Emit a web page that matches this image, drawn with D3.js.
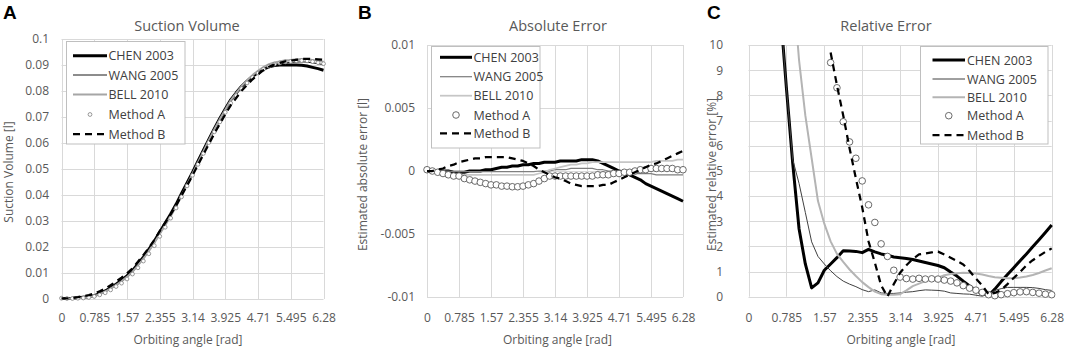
<!DOCTYPE html>
<html>
<head>
<meta charset="utf-8">
<script src="https://cdn.jsdelivr.net/npm/d3@7"></script>
<style>
  body { margin: 0; background: #fff; }
  svg { font-family: "Open Sans", "Noto Sans", sans-serif; }
</style>
</head>
<body>
<div id="chart"></div>
<script>
// orbiting angle samples [rad]
var theta = [0, 0.131, 0.262, 0.392, 0.523, 0.654, 0.785, 0.916, 1.047, 1.177, 1.308, 1.439, 1.570, 1.701, 1.832, 1.962, 2.093, 2.224, 2.355, 2.486, 2.617, 2.747, 2.878, 3.009, 3.140, 3.271, 3.402, 3.532, 3.663, 3.794, 3.925, 4.056, 4.187, 4.317, 4.448, 4.579, 4.710, 4.841, 4.972, 5.102, 5.233, 5.364, 5.495, 5.626, 5.757, 5.887, 6.018, 6.149, 6.280];

var xTicks = [0, 0.785, 1.57, 2.355, 3.14, 3.925, 4.71, 5.495, 6.28];
var xTickLabels = ["0", "0.785", "1.57", "2.355", "3.14", "3.925", "4.71", "5.495", "6.28"];

var seriesNames = ["CHEN 2003", "WANG 2005", "BELL 2010", "Method A", "Method B"];

// A - suction volume [l]
var volChen = [0.0002,0.0002,0.0003,0.0005,0.0007,0.0009,0.0013,0.0021,0.0031,0.0043,0.0057,0.0072,0.0089,0.0109,0.0135,0.0161,0.0191,0.0222,0.0258,0.0292,0.0327,0.0364,0.0406,0.0446,0.0487,0.0530,0.0572,0.0614,0.0655,0.0694,0.0731,0.0766,0.0793,0.0818,0.0838,0.0856,0.0871,0.0884,0.0893,0.0898,0.0900,0.0901,0.0900,0.0900,0.0899,0.0896,0.0891,0.0886,0.0880];
var volWang = [0.0002,0.0002,0.0003,0.0005,0.0007,0.0009,0.0013,0.0021,0.0030,0.0042,0.0056,0.0070,0.0087,0.0106,0.0131,0.0157,0.0186,0.0217,0.0252,0.0286,0.0320,0.0358,0.0399,0.0439,0.0481,0.0523,0.0565,0.0608,0.0649,0.0687,0.0724,0.0759,0.0786,0.0813,0.0834,0.0854,0.0871,0.0884,0.0895,0.0901,0.0905,0.0909,0.0910,0.0911,0.0912,0.0911,0.0908,0.0905,0.0901];
var volBell = [0.0002,0.0001,0.0002,0.0003,0.0005,0.0007,0.0011,0.0019,0.0028,0.0040,0.0054,0.0068,0.0085,0.0104,0.0129,0.0155,0.0184,0.0215,0.0250,0.0284,0.0318,0.0356,0.0398,0.0440,0.0482,0.0525,0.0568,0.0611,0.0652,0.0691,0.0728,0.0764,0.0792,0.0819,0.0841,0.0861,0.0878,0.0892,0.0903,0.0910,0.0914,0.0918,0.0919,0.0922,0.0923,0.0922,0.0919,0.0917,0.0913];
var volMethodA = [0.0003,0.0002,0.0002,0.0003,0.0004,0.0006,0.0010,0.0016,0.0024,0.0035,0.0048,0.0061,0.0077,0.0096,0.0120,0.0146,0.0174,0.0205,0.0241,0.0276,0.0311,0.0350,0.0393,0.0435,0.0476,0.0518,0.0560,0.0602,0.0643,0.0681,0.0718,0.0753,0.0782,0.0809,0.0831,0.0852,0.0869,0.0884,0.0895,0.0903,0.0908,0.0912,0.0914,0.0916,0.0917,0.0916,0.0913,0.0909,0.0905];
var volMethodB = [0.0002,0.0002,0.0004,0.0007,0.0011,0.0015,0.0021,0.0030,0.0040,0.0053,0.0067,0.0082,0.0099,0.0118,0.0143,0.0169,0.0197,0.0227,0.0261,0.0293,0.0325,0.0359,0.0398,0.0436,0.0475,0.0516,0.0556,0.0596,0.0636,0.0673,0.0710,0.0745,0.0773,0.0801,0.0823,0.0845,0.0864,0.0880,0.0893,0.0902,0.0908,0.0914,0.0917,0.0920,0.0923,0.0924,0.0923,0.0922,0.0920];

// B - absolute error [l]
var absChen = [0,0,0,0,0,-0.0001,-0.0001,-0.0001,0,0,0,0.0001,0.0001,0.0002,0.0003,0.0003,0.0004,0.0004,0.0005,0.0005,0.0006,0.0006,0.0007,0.0007,0.0007,0.0008,0.0008,0.0008,0.0008,0.0009,0.0009,0.0009,0.0008,0.0006,0.0004,0.0002,0,-0.0001,-0.0003,-0.0005,-0.0007,-0.0010,-0.0012,-0.0014,-0.0016,-0.0018,-0.0020,-0.0022,-0.0024];
var absWang = [0,0,0,0,0,-0.00005,-0.00005,-0.00005,-0.00005,-0.00005,-0.00005,-0.00005,-0.00005,-0.00005,-0.00005,-0.00005,-0.00005,-0.00005,-0.00005,-0.00005,-0.00005,0,0,0,0.0001,0.0001,0.0001,0.0002,0.0002,0.0002,0.0002,0.0002,0.0001,0.0001,0,0,0,-0.0001,-0.0001,-0.0002,-0.0002,-0.0002,-0.0002,-0.0003,-0.0003,-0.0003,-0.0003,-0.0003,-0.0003];
var absBell = [0,-0.0001,-0.0001,-0.0002,-0.0002,-0.0003,-0.0003,-0.0003,-0.0003,-0.0003,-0.0003,-0.0003,-0.0003,-0.0003,-0.0003,-0.0003,-0.0003,-0.0003,-0.0003,-0.0003,-0.0003,-0.0002,-0.0001,0.0001,0.0002,0.0003,0.0004,0.0005,0.0005,0.0006,0.0006,0.0007,0.0007,0.0007,0.0007,0.0007,0.0007,0.0007,0.0007,0.0007,0.0007,0.0007,0.0007,0.0008,0.0008,0.0008,0.0008,0.0009,0.0009];
var absMethodA = [0.0001,0,-0.0001,-0.0002,-0.0003,-0.0004,-0.0004,-0.0006,-0.0007,-0.0008,-0.0009,-0.0010,-0.0011,-0.0011,-0.0012,-0.0012,-0.00125,-0.00125,-0.0012,-0.0011,-0.0010,-0.0008,-0.0006,-0.0004,-0.0004,-0.0004,-0.0004,-0.0004,-0.0004,-0.0004,-0.0004,-0.0004,-0.0003,-0.0003,-0.0003,-0.0002,-0.0002,-0.0001,-0.0001,0,0.0001,0.0001,0.0002,0.0002,0.0002,0.0002,0.0002,0.0001,0.0001];
var absMethodB = [0,0,0.0001,0.0002,0.0004,0.0005,0.0007,0.0008,0.0009,0.0010,0.0010,0.0011,0.0011,0.0011,0.0011,0.0011,0.0010,0.0009,0.0008,0.0006,0.0004,0.0001,-0.0001,-0.0003,-0.0005,-0.0006,-0.0008,-0.0010,-0.0011,-0.0012,-0.0012,-0.0012,-0.0012,-0.0011,-0.0011,-0.0009,-0.0007,-0.0005,-0.0003,-0.0001,0.0001,0.0003,0.0005,0.0006,0.0008,0.0010,0.0012,0.0014,0.0016];

// C - relative error [%]
var relChen = [null,null,null,null,16,11.5,8.3,5.3,2.7,1.3,0.35,0.55,1.05,1.3,1.55,1.83,1.82,1.8,1.75,1.88,1.78,1.7,1.65,1.58,1.55,1.52,1.48,1.42,1.36,1.3,1.24,1.15,0.98,0.82,0.62,0.43,0.25,0.12,0.05,0.3,0.6,0.88,1.15,1.43,1.7,1.98,2.26,2.55,2.85];
var relWang = [null,null,null,null,16,11.5,8.3,5.45,4.5,3.35,2.18,1.6,1.3,1.03,0.8,0.62,0.5,0.4,0.28,0.2,0.27,0.15,0.13,0.13,0.15,0.18,0.2,0.24,0.27,0.26,0.25,0.22,0.15,0.13,0.11,0.1,0.06,0.02,0.1,0.25,0.32,0.37,0.37,0.37,0.37,0.36,0.33,0.28,0.25];
var relBell = [null,null,null,null,null,null,18,12.5,9.4,7.2,5.5,3.8,2.9,2.2,1.7,1.38,1.08,0.82,0.58,0.38,0.2,0.1,0.08,0.08,0.1,0.25,0.42,0.52,0.62,0.7,0.76,0.85,0.9,0.93,0.95,0.94,0.92,0.88,0.82,0.77,0.75,0.73,0.73,0.76,0.8,0.86,0.94,1.04,1.13];
var relMethodA = [null,null,null,null,null,null,null,null,null,null,null,14,11.6,9.3,8.3,6.95,6.15,5.5,4.6,3.65,2.95,2.1,1.6,1.05,0.78,0.72,0.7,0.73,0.7,0.71,0.7,0.66,0.62,0.55,0.44,0.34,0.26,0.17,0.08,0.04,0.08,0.12,0.16,0.19,0.2,0.17,0.14,0.1,0.08];
var relMethodB = [null,null,null,null,null,null,null,null,null,null,null,null,null,9.7,8.4,7.2,5.9,4.7,3.55,2.2,1.35,0.45,0,0.5,0.95,1.25,1.5,1.68,1.72,1.76,1.79,1.68,1.55,1.42,1.28,1.02,0.72,0.45,0.1,0.15,0.27,0.5,0.75,0.98,1.25,1.45,1.62,1.78,1.92];

var volTicks = [0, 0.01, 0.02, 0.03, 0.04, 0.05, 0.06, 0.07, 0.08, 0.09, 0.1];
var volTickLabels = ["0", "0.01", "0.02", "0.03", "0.04", "0.05", "0.06", "0.07", "0.08", "0.09", "0.1"];
var absTicks = [-0.01, -0.005, 0, 0.005, 0.01];
var absTickLabels = ["-0.01", "-0.005", "0", "0.005", "0.01"];
var relTicks = [0, 1, 2, 3, 4, 5, 6, 7, 8, 9, 10];
var relTickLabels = ["0", "1", "2", "3", "4", "5", "6", "7", "8", "9", "10"];

var width = 1065, height = 348;
var textColor = "#595959";

var svg = d3.select("#chart").append("svg")
    .attr("width", width)
    .attr("height", height);

var panels = [
  {
    letter: "A", letterX: 3, title: "Suction Volume", titleX: 187, xTitleX: 188,
    yTitle: "Suction Volume [l]", yTitleX: 12.5, yTitleY: 172,
    left: 61.5, right: 323.5, top: 39, bottom: 299, yLabelGap: 12.5,
    yDomain: [0, 0.1], yTicks: volTicks, yLabels: volTickLabels,
    data: [volChen, volWang, volBell, volMethodA, volMethodB],
    styles: [
      {color: "#000", w: 3},
      {color: "#1a1a1a", w: 1},
      {color: "#a6a6a6", w: 2},
      {marker: true, r: 1.9, color: "#7f7f7f", w: 0.8},
      {color: "#000", w: 2.25, dash: "7,5"}
    ],
    legend: {x: 66.5, y: 41.5, w: 118.5, h: 102.5, rows: [55.7, 75, 94.5, 114.5, 134], sx1: 73, sx2: 107, tx: 108.5}
  },
  {
    letter: "B", letterX: 358, title: "Absolute Error", titleX: 558, xTitleX: 557.5,
    yTitle: "Estimated absolute error [l]", yTitleX: 367, yTitleY: 174.5,
    left: 427, right: 683, top: 45, bottom: 297, yLabelGap: 12,
    yDomain: [-0.01, 0.01], yTicks: absTicks, yLabels: absTickLabels,
    data: [absChen, absWang, absBell, absMethodA, absMethodB],
    styles: [
      {color: "#000", w: 3},
      {color: "#7f7f7f", w: 1.25},
      {color: "#c6c6c6", w: 1.75},
      {marker: true, r: 3.3, color: "#595959", w: 0.9},
      {color: "#000", w: 2.25, dash: "7,5"}
    ],
    legend: {x: 431.5, y: 46.5, w: 108.5, h: 101.5, rows: [57.3, 76.7, 95.7, 115, 133.3], sx1: 440, sx2: 472, tx: 473.5}
  },
  {
    letter: "C", letterX: 707, title: "Relative Error", titleX: 886, xTitleX: 901,
    yTitle: "Estimated relative error [%]", yTitleX: 716, yTitleY: 174.5,
    left: 748.5, right: 1051.7, top: 45, bottom: 296.7, yLabelGap: 25.5,
    yDomain: [0, 10], yTicks: relTicks, yLabels: relTickLabels,
    data: [relChen, relWang, relBell, relMethodA, relMethodB],
    styles: [
      {color: "#000", w: 3},
      {color: "#404040", w: 1},
      {color: "#b4b4b4", w: 2},
      {marker: true, r: 3.3, color: "#595959", w: 0.9},
      {color: "#000", w: 2.25, dash: "7,5"}
    ],
    legend: {x: 920.5, y: 46.5, w: 127.5, h: 97.5, rows: [60, 79, 97.3, 115.7, 135], sx1: 932.5, sx2: 965, tx: 967}
  }
];

panels.forEach(function(p, pi) {
  var x = d3.scaleLinear().domain([0, 6.28]).range([p.left, p.right]);
  var y = d3.scaleLinear().domain(p.yDomain).range([p.bottom, p.top]);
  var g = svg.append("g");

  // grid
  g.append("g").selectAll("line").data(p.yTicks).enter().append("line")
    .attr("x1", p.left).attr("x2", p.right)
    .attr("y1", function(d){ return Math.round(y(d)) + 0.5; })
    .attr("y2", function(d){ return Math.round(y(d)) + 0.5; })
    .attr("stroke", "#d9d9d9").attr("stroke-width", 1);
  g.append("g").selectAll("line").data(xTicks).enter().append("line")
    .attr("y1", p.top).attr("y2", p.bottom)
    .attr("x1", function(d){ return Math.round(x(d)) + 0.5; })
    .attr("x2", function(d){ return Math.round(x(d)) + 0.5; })
    .attr("stroke", "#d9d9d9").attr("stroke-width", 1);

  // axes
  var xAxis = d3.axisBottom(x).tickValues(xTicks)
    .tickFormat(function(d, i){ return xTickLabels[i]; })
    .tickSize(0);
  var xg = g.append("g").attr("transform", "translate(0," + p.bottom + ")").call(xAxis);
  xg.select(".domain").remove();
  xg.selectAll("text").attr("y", 322 - p.bottom).attr("dy", 0)
    .attr("fill", textColor).style("font-size", "12px").style("font-family", "Open Sans");

  var yAxis = d3.axisLeft(y).tickValues(p.yTicks)
    .tickFormat(function(d, i){ return p.yLabels[i]; })
    .tickSize(0).tickPadding(p.yLabelGap);
  var yg = g.append("g").attr("transform", "translate(" + p.left + ",0)").call(yAxis);
  yg.select(".domain").remove();
  yg.selectAll("text").attr("fill", textColor).style("font-size", "12px").style("font-family", "Open Sans");

  // titles
  g.append("text").attr("x", p.titleX).attr("y", 30.5).attr("text-anchor", "middle")
    .attr("fill", textColor).style("font-size", "14.5px").text(p.title);
  g.append("text").attr("x", p.xTitleX).attr("y", 344).attr("text-anchor", "middle")
    .attr("fill", textColor).style("font-size", "12px").text("Orbiting angle [rad]");
  g.append("text").attr("transform", "translate(" + p.yTitleX + "," + p.yTitleY + ") rotate(-90)")
    .attr("text-anchor", "middle").attr("fill", textColor).style("font-size", "12px").text(p.yTitle);
  g.append("text").attr("x", p.letterX).attr("y", 18.5)
    .style("font-family", "Liberation Sans, Arial, sans-serif").style("font-weight", "bold")
    .style("font-size", "19px").attr("fill", "#000").text(p.letter);

  // plot clip
  var clipId = "clip" + pi;
  svg.append("clipPath").attr("id", clipId).append("rect")
    .attr("x", p.left - 4).attr("y", p.top).attr("width", p.right - p.left + 8).attr("height", p.bottom - p.top + 4);
  var plot = g.append("g").attr("clip-path", "url(#" + clipId + ")");

  var line = d3.line()
    .defined(function(d){ return d[1] != null; })
    .x(function(d){ return x(d[0]); })
    .y(function(d){ return y(d[1]); });

  p.data.forEach(function(vals, si) {
    var st = p.styles[si];
    var pts = theta.map(function(t, i){ return [t, vals[i]]; });
    if (st.marker) {
      plot.append("g").selectAll("circle")
        .data(pts.filter(function(d){ return d[1] != null && d[1] >= p.yDomain[0] && d[1] <= p.yDomain[1]; }))
        .enter().append("circle")
        .attr("cx", function(d){ return x(d[0]); })
        .attr("cy", function(d){ return y(d[1]); })
        .attr("r", st.r)
        .attr("fill", "#fff").attr("stroke", st.color).attr("stroke-width", st.w);
    } else {
      plot.append("path").datum(pts)
        .attr("d", line)
        .attr("fill", "none")
        .attr("stroke", st.color)
        .attr("stroke-width", st.w)
        .attr("stroke-dasharray", st.dash || null)
        .attr("stroke-linejoin", "round");
    }
  });

  // legend
  var L = p.legend;
  var lg = g.append("g");
  lg.append("rect").attr("x", L.x).attr("y", L.y).attr("width", L.w).attr("height", L.h)
    .attr("fill", "#fff").attr("stroke", "#bfbfbf").attr("stroke-width", 1);
  seriesNames.forEach(function(name, si) {
    var st = p.styles[si];
    var ry = L.rows[si];
    if (st.marker) {
      lg.append("circle").attr("cx", (L.sx1 + L.sx2) / 2).attr("cy", ry).attr("r", st.r)
        .attr("fill", "#fff").attr("stroke", st.color).attr("stroke-width", st.w);
    } else {
      lg.append("line").attr("x1", L.sx1).attr("x2", L.sx2).attr("y1", ry).attr("y2", ry)
        .attr("stroke", st.color).attr("stroke-width", st.w)
        .attr("stroke-dasharray", st.dash || null);
    }
    lg.append("text").attr("x", L.tx).attr("y", ry).attr("dy", "0.36em")
      .attr("fill", "#404040").style("font-size", "12.5px").text(name);
  });
});
</script>
</body>
</html>
